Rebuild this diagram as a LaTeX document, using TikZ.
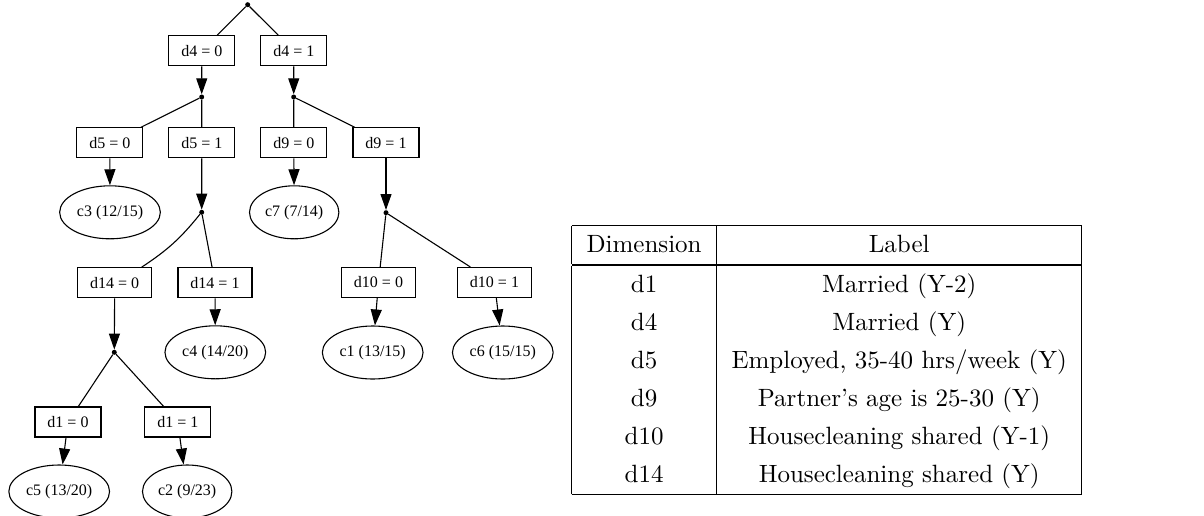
\documentclass[tikz,border=0pt]{standalone}
\usepackage{fontspec}
\usetikzlibrary{arrows, arrows.meta, shapes.geometric}
\newfontfamily\treefont{Liberation Serif}

\tikzset{
    testbox/.style={draw, rectangle, line width=1.1pt, inner xsep=12.5pt, inner ysep=0pt, minimum height=30pt, font=\treefont\fontsize{16}{19}\selectfont},
    leafnode/.style={draw, ellipse, line width=1.1pt, inner xsep=2.5pt, inner ysep=0pt, minimum height=53pt, font=\treefont\fontsize{16}{19}\selectfont},
    joint/.style={circle, fill, inner sep=0pt, minimum size=5pt},
    branch/.style={line width=1.1pt},
    pick/.style={line width=1.1pt, -{Triangle[length=16pt, width=11pt]}}
}

\begin{document}
\begin{tikzpicture}[x=1pt, y=-1pt]
    
    \useasboundingbox (0,0) rectangle (1204,515);
    
    \node[joint] (j0) at (247.7, 4.7) {};
    \node[joint] (j1) at (201.7, 97) {};
    \node[joint] (j2) at (293.7, 97) {};
    \node[joint] (j3) at (201.7, 212.3) {};
    \node[joint] (j4) at (386, 212.7) {};
    \node[joint] (j5) at (114.3, 352.3) {};
    
    \node[testbox] (d4a) at (201.8, 50.7) {d4 = 0};
    \node[testbox] (d4b) at (293.8, 50.7) {d4 = 1};
    \node[testbox] (d5a) at (109.8, 142.8) {d5 = 0};
    \node[testbox] (d5b) at (201.8, 142.8) {d5 = 1};
    \node[testbox] (d9a) at (293.8, 142.8) {d9 = 0};
    \node[testbox] (d9b) at (386, 142.8) {d9 = 1};
    \node[testbox] (d14a) at (114.7, 282.7) {d14 = 0};
    \node[testbox] (d14b) at (215, 282.7) {d14 = 1};
    \node[testbox] (d10a) at (378.5, 282.5) {d10 = 0};
    \node[testbox] (d10b) at (494.5, 282.5) {d10 = 1};
    \node[testbox] (d1a) at (68, 422) {d1 = 0};
    \node[testbox] (d1b) at (177.8, 422) {d1 = 1};
    
    \node[leafnode] (c3) at (110, 212.3) {c3 (12/15)};
    \node[leafnode] (c7) at (294.2, 212.3) {c7 (7/14)};
    \node[leafnode] (c4) at (215.3, 352.3) {c4 (14/20)};
    \node[leafnode] (c1) at (372.7, 352.5) {c1 (13/15)};
    \node[leafnode] (c6) at (502.8, 352.5) {c6 (15/15)};
    \node[leafnode] (c5) at (59.2, 491.5) {c5 (13/20)};
    \node[leafnode] (c2) at (187.2, 491.5) {c2 (9/23)};
    
    \draw[branch] (j0) -- (d4a);
    \draw[branch] (j0) -- (d4b);
    \draw[branch] (j1) -- (d5a);
    \draw[branch] (j1) -- (d5b);
    \draw[branch] (j2) -- (d9a);
    \draw[branch] (j2) -- (d9b);
    \draw[branch] (j3) to[bend left=9] (d14a);
    \draw[branch] (j3) -- (d14b);
    \draw[branch] (j4) -- (d10a);
    \draw[branch] (j4) -- (d10b);
    \draw[branch] (j5) -- (d1a);
    \draw[branch] (j5) -- (d1b);
    
    \draw[pick] (d4a) -- (j1);
    \draw[pick] (d4b) -- (j2);
    \draw[pick] (d5a) -- (c3);
    \draw[pick] (d5b) -- (j3);
    \draw[pick] (d9a) -- (c7);
    \draw[pick] (d9b) -- (j4);
    \draw[pick] (d14a) -- (j5);
    \draw[pick] (d14b) -- (c4);
    \draw[pick] (d10a) -- (c1);
    \draw[pick] (d10b) -- (c6);
    \draw[pick] (d1a) -- (c5);
    \draw[pick] (d1b) -- (c2);
    
    \node[scale=2.5, inner sep=0pt] (legend) at (826.7, 360) {%
        \renewcommand{\arraystretch}{1.27}%
        \setlength{\doublerulesep}{0.4pt}%
        \begin{tabular}{|c|c|}
            \hline
            Dimension & Label \\
            \hline\hline
            d1 & Married (Y-2) \\
            d4 & Married (Y) \\
            d5 & Employed, 35-40 hrs/week (Y) \\
            d9 & Partner's age is 25-30 (Y) \\
            d10 & Housecleaning shared (Y-1) \\
            d14 & Housecleaning shared (Y) \\
            \hline
        \end{tabular}};
    
\end{tikzpicture}
\end{document}
